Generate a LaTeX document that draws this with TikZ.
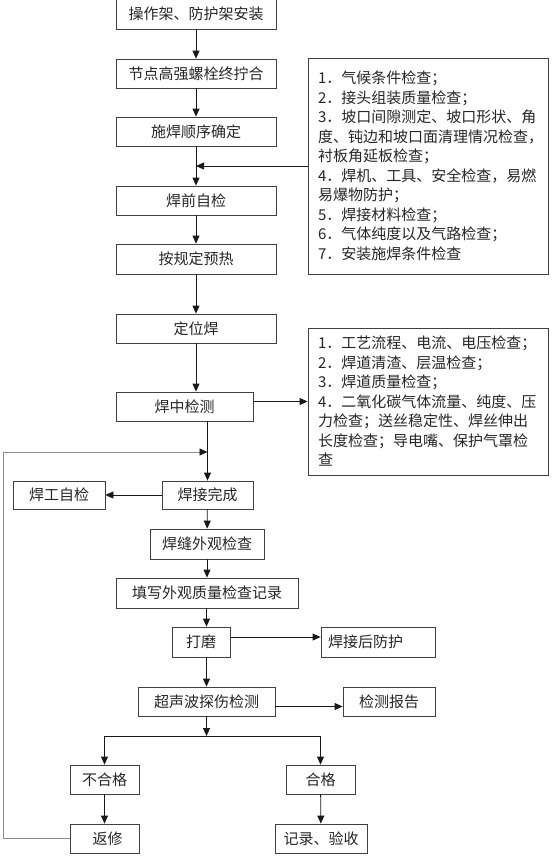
\documentclass[tikz,border=0pt]{standalone}
\usepackage{fontspec}
\setmainfont{Noto Sans CJK SC}
\usetikzlibrary{arrows.meta, positioning}

\begin{document}
\begin{tikzpicture}[x=1pt, y=-1pt,
  every node/.style={font=\fontsize{15}{19.5}\selectfont, text=black!85},
  stepbox/.style={draw=black!75, line width=0.8pt, minimum height=29pt, inner sep=0pt},
  notebox/.style={draw=black!75, line width=0.8pt, align=left, text width=220pt, inner xsep=10pt, inner ysep=0pt, minimum width=240pt},
  flow/.style={-{Triangle[length=8pt, width=7pt]}, line width=0.8pt, black!90},
  loopline/.style={-{Triangle[length=8pt, width=7pt, color=black!90]}, line width=0.8pt, black!45}]
\useasboundingbox (0,0) rectangle (557,857);

\node[stepbox, minimum width=160pt, minimum height=30pt] (op) at (196,14) {操作架、防护架安装};
\node[stepbox, minimum width=160pt] (bolt) at (196,73.5) {节点高强螺栓终拧合};
\node[stepbox, minimum width=160pt] (seq) at (196,131.5) {施焊顺序确定};
\node[stepbox, minimum width=160pt] (self) at (196,200.5) {焊前自检};
\node[stepbox, minimum width=160pt, minimum height=30pt] (heat) at (196,259) {按规定预热};
\node[stepbox, minimum width=160pt] (tack) at (196,328.5) {定位焊};
\node[stepbox, minimum width=137pt] (mid) at (184.5,406.5) {焊中检测};
\node[stepbox, minimum width=91pt, minimum height=28pt] (done) at (207.5,495) {焊接完成};
\node[stepbox, minimum width=92pt, minimum height=28pt] (wself) at (59,495) {焊工自检};
\node[stepbox, minimum width=114pt, minimum height=30pt] (look) at (207,544) {焊缝外观检查};
\node[stepbox, minimum width=182pt, minimum height=30pt] (rec) at (207,593) {填写外观质量检查记录};
\node[stepbox, minimum width=58pt, minimum height=30pt] (grind) at (201,642) {打磨};
\node[stepbox, minimum height=30pt, text width=100pt, inner xsep=7pt, align=left] (protect) at (378,642) {焊接后防护};
\node[stepbox, minimum width=137pt] (ut) at (206.5,701.5) {超声波探伤检测};
\node[stepbox, minimum width=92pt] (report) at (389,701.5) {检测报告};
\node[stepbox, minimum width=69pt] (fail) at (104.5,779.5) {不合格};
\node[stepbox, minimum width=69pt] (pass) at (320.5,779.5) {合格};
\node[stepbox, minimum width=69pt] (repair) at (104.5,838.5) {\hspace{6pt}返修};
\node[stepbox, minimum width=92pt] (accept) at (321,838.5) {记录、验收};

\node[notebox, minimum height=216pt] (note1) at (428,166) {1．气候条件检查；\\2．接头组装质量检查；\\3．坡口间隙测定、坡口形状、角\\度、钝边和坡口面清理情况检查，\\衬板角延板检查；\\4．焊机、工具、安全检查，易燃\\易爆物防护；\\5．焊接材料检查；\\6．气体纯度以及气路检查；\\7．安装施焊条件检查};
\node[notebox, minimum height=147pt] (note2) at (428,401.5) {1．工艺流程、电流、电压检查；\\2．焊道清渣、层温检查；\\3．焊道质量检查；\\4．二氧化碳气体流量、纯度、压\\力检查；送丝稳定性、焊丝伸出\\长度检查；导电嘴、保护气罩检\\查};

\coordinate (split) at (206.5,736);
\coordinate (loop) at (3,452);
\coordinate (rejoin) at (207.5,452);

\draw[flow] (op) -- (bolt);
\draw[flow] (bolt) -- (seq);
\draw[flow] (seq) -- (self);
\draw[flow] (note1.west) -- (note1.west -| seq.south);
\draw[flow] (self) -- (heat);
\draw[flow] (heat) -- (tack);
\draw[flow] (tack.south) -- (tack.south |- mid.north);
\draw[flow] (note2.west -| mid.east) -- (note2.west);
\draw[flow] (mid.south -| done.north) -- (done.north);
\draw[loopline] (repair.west) -| (loop) -- (rejoin);
\draw[flow] (done) -- (wself);
\draw[flow] (done) -- (look);
\draw[flow] (look) -- (rec);
\draw[flow] (rec.south -| ut.north) -- (grind.north -| ut.north);
\draw[flow] ([yshift=5pt]grind.east) -- ([yshift=5pt]protect.west);
\draw[flow] (grind.south -| ut.north) -- (ut.north);
\draw[flow] ([yshift=-5pt]ut.east) -- ([yshift=-5pt]report.west);
\draw[flow] (ut.south) -- (split);
\draw[flow] (split) -| (fail.north);
\draw[flow] (split) -| (pass.north);
\draw[flow] (fail) -- (repair);
\draw[flow] (pass) -- (accept);
\end{tikzpicture}
\end{document}
